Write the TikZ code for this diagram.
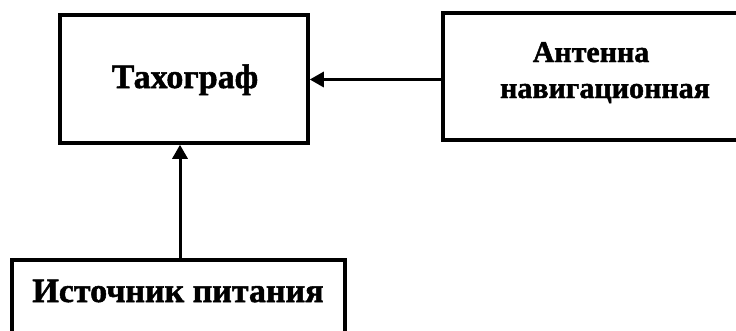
\documentclass[tikz,border=0pt]{standalone}
\usepackage{fontspec}
\setmainfont{Liberation Serif}[BoldFeatures={FakeBold=1.5}]
\usetikzlibrary{arrows.meta}
\begin{document}
\begin{tikzpicture}[x=1pt,y=-1pt,
  box/.style={draw=black,line width=3.5pt,inner sep=0pt,fill=none},
  lbl/.style={inner sep=0pt,anchor=base},
  arr/.style={line width=3pt,-{Triangle[length=14pt,width=15pt]}}]
\useasboundingbox (0,0) rectangle (736,330);
\node[box,minimum width=248pt,minimum height=128pt] (tach) at (184,79) {};
\node[box,minimum width=304pt,minimum height=127pt] (ant) at (595,76.5) {};
\node[box,minimum width=333pt,minimum height=90pt] (src) at (178.5,305) {};
\node[lbl,font=\fontsize{34}{40}\selectfont\bfseries] (tachT) at (185,88) {Тахограф};
\node[lbl,font=\fontsize{30}{36}\selectfont\bfseries] (antT1) at (591,62) {Антенна};
\node[lbl,font=\fontsize{30}{36}\selectfont\bfseries] (antT2) at (605,98) {навигационная};
\node[lbl,font=\fontsize{34}{40}\selectfont\bfseries] (srcT) at (178,302) {Источник питания};
\draw[arr] ([yshift=-3pt]ant.west) -- ([yshift=-3pt]ant.west -| tach.east);
\draw[arr] ([xshift=1.5pt]src.north) -- ([xshift=1.5pt]src.north |- tach.south);
\end{tikzpicture}
\end{document}
